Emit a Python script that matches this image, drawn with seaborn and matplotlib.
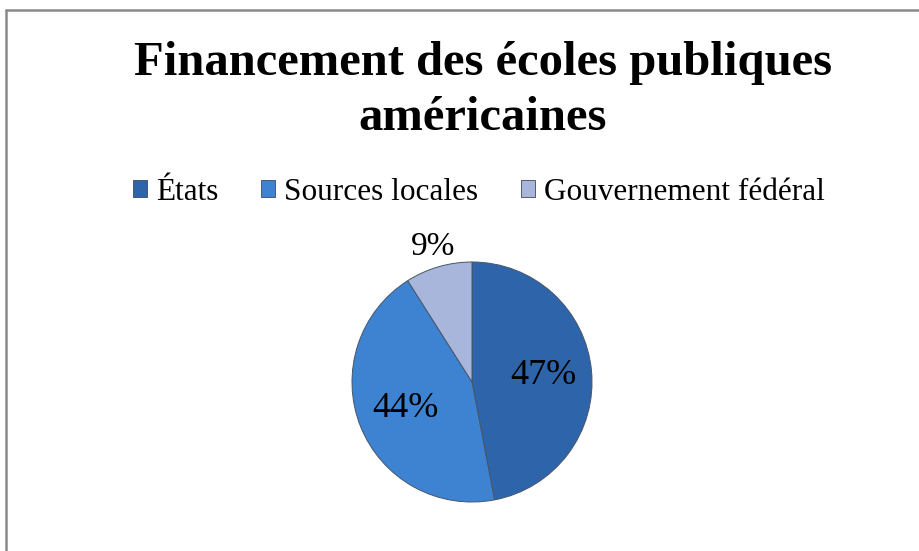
import numpy as np
import matplotlib
matplotlib.use("Agg")
import matplotlib.pyplot as plt
import seaborn as sns
from matplotlib.patches import Patch
from matplotlib.lines import Line2D

# Data
categories = ["États", "Sources locales", "Gouvernement fédéral"]
shares = [47, 44, 9]
colors = ["#2E64A9", "#3E83D1", "#A7B6DA"]
title = "Financement des écoles publiques\naméricaines"

sns.set_theme(style="white")
plt.rcParams["font.family"] = ["Liberation Serif", "DejaVu Serif"]
plt.rcParams["text.color"] = "black"

fig = plt.figure(figsize=(9.2, 5.51), dpi=100)
fig.patch.set_facecolor("white")

# pie axes
ax = fig.add_axes([0.3826, 0.0889, 0.2609, 0.4356])
wedges, texts, autotexts = ax.pie(
    shares,
    colors=colors,
    startangle=90,
    counterclock=False,
    autopct="%1.0f%%",
    pctdistance=0.6,
    wedgeprops=dict(edgecolor="#46556b", linewidth=0.7),
    textprops=dict(fontsize=26, color="black"),
)
ax.set_xlim(-1, 1)
ax.set_ylim(-1, 1)
ax.set_aspect("equal")
ax.axis("off")

# small slice label goes outside
w = wedges[2]
mid = np.deg2rad((w.theta1 + w.theta2) / 2)
autotexts[2].set_position((1.17 * np.cos(mid), 1.17 * np.sin(mid)))
autotexts[2].set_fontsize(24)

# title
fig.text(483 / 920, 0.836, title, ha="center", va="center", color="black",
         fontsize=35, fontweight="bold", linespacing=1.33)

# legend
handles = [Patch(facecolor=c, edgecolor="#3a4a60", linewidth=0.6) for c in colors]
leg = fig.legend(handles, categories, loc="center", bbox_to_anchor=(479 / 920, 1 - 192 / 551),
                 ncol=3, frameon=False, fontsize=22.5, handlelength=0.45, handleheight=0.45,
                 handletextpad=0.3, columnspacing=1.35)
for t in leg.get_texts():
    t.set_color("black")

# chart border (top and left edges visible)
fig.add_artist(Line2D([6 / 920, 1.0], [1 - 10 / 551, 1 - 10 / 551],
                      transform=fig.transFigure, color="#8a8a8a", linewidth=1.8))
fig.add_artist(Line2D([6 / 920, 6 / 920], [0.0, 1 - 10 / 551],
                      transform=fig.transFigure, color="#8a8a8a", linewidth=1.8))

fig.savefig("out.png", dpi=100)
